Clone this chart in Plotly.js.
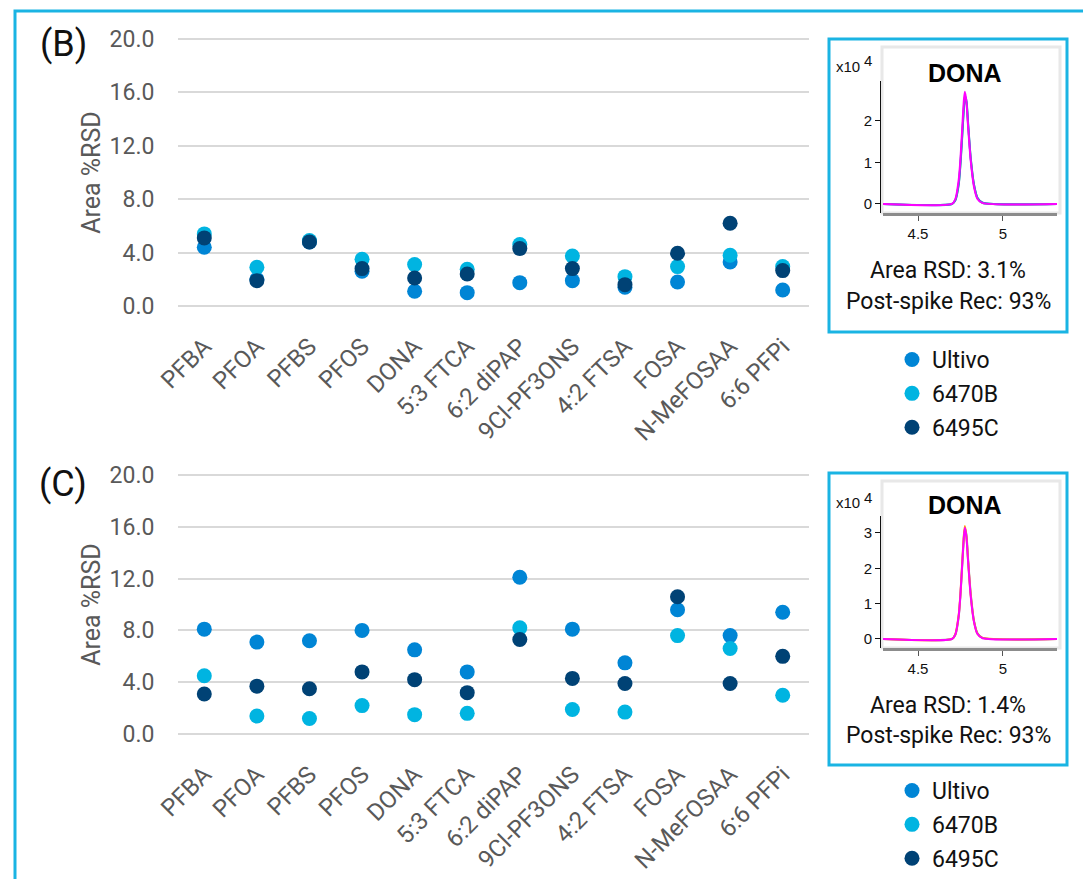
<!DOCTYPE html>
<html>
<head>
<meta charset="utf-8">
<script src="https://cdn.plot.ly/plotly-3.0.1.min.js"></script>
<style>html,body{margin:0;padding:0;background:#fff;}#chart{width:1083px;height:879px;}</style>
</head>
<body>
<div id="chart"></div>
<script>
// ---- data ----
const categories = ['PFBA','PFOA','PFBS','PFOS','DONA','5:3 FTCA','6:2 diPAP','9Cl-PF3ONS','4:2 FTSA','FOSA','N-MeFOSAA','6:6 PFPi'];
const seriesNames = ['Ultivo','6470B','6495C'];

// Panel (B)
const ultivoB = [4.4, 2.0, 4.8, 2.6, 1.1, 1.0, 1.75, 1.9, 1.4, 1.8, 3.3, 1.2];
const i6470B_B = [5.4, 2.9, 4.9, 3.5, 3.1, 2.75, 4.6, 3.75, 2.2, 2.95, 3.8, 2.95];
const i6495C_B = [5.1, 1.9, 4.8, 2.8, 2.1, 2.4, 4.3, 2.8, 1.6, 3.95, 6.2, 2.65];

// Panel (C)
const ultivoC = [8.1, 7.1, 7.2, 8.0, 6.5, 4.8, 12.1, 8.1, 5.5, 9.6, 7.6, 9.4];
const i6470B_C = [4.5, 1.4, 1.2, 2.2, 1.5, 1.6, 8.2, 1.9, 1.7, 7.6, 6.6, 3.0];
const i6495C_C = [3.1, 3.7, 3.5, 4.8, 4.2, 3.2, 7.3, 4.3, 3.9, 10.6, 3.9, 6.0];

const yTicks = [0, 4, 8, 12, 16, 20];
const yTickText = ['0.0','4.0','8.0','12.0','16.0','20.0'];

// Inset chromatograms (DONA), retention time (min) vs intensity (x10^4)
const rt = [4.29, 4.70, 4.72, 4.74, 4.75, 4.76, 4.77, 4.776, 4.785, 4.795, 4.81, 4.83, 4.85, 4.88, 5.32];
const chromB_teal    = [0, 0, 0.09, 0.48, 0.95, 1.60, 2.30, 2.55, 2.45, 1.90, 1.12, 0.45, 0.15, 0.03, 0];
const chromB_blue    = [0, 0, 0.10, 0.50, 1.00, 1.65, 2.35, 2.60, 2.50, 1.95, 1.10, 0.45, 0.14, 0.03, 0];
const chromB_magenta = [0, 0, 0.12, 0.60, 1.10, 1.80, 2.50, 2.70, 2.45, 1.85, 1.05, 0.40, 0.12, 0.02, 0];
const chromC_gray    = [0, 0, 0.12, 0.65, 1.25, 2.05, 2.85, 3.12, 2.95, 2.25, 1.30, 0.50, 0.16, 0.03, 0];
const chromC_orange  = [0, 0, 0.14, 0.70, 1.30, 2.15, 2.95, 3.20, 2.90, 2.20, 1.25, 0.48, 0.15, 0.03, 0];
const chromC_magenta = [0, 0, 0.13, 0.68, 1.28, 2.10, 2.90, 3.15, 2.88, 2.18, 1.22, 0.47, 0.14, 0.02, 0];
const insetTitle = 'DONA';
const insetTextB = ['Area RSD: 3.1%', 'Post-spike Rec: 93%'];
const insetTextC = ['Area RSD: 1.4%', 'Post-spike Rec: 93%'];

// ---- styles ----
const colors = ['#0085D5', '#00B4E1', '#004275'];
const cyan = '#1AB4E3';
const W = 1083, H = 879;
const px = x => x / W;
const py = y => 1 - y / H;
const FONT = 'Roboto, "Noto Sans", sans-serif';
const ARIAL = '"Liberation Sans", Arial, sans-serif';

const traces = [];
const panelB = [ultivoB, i6470B_B, i6495C_B];
const panelC = [ultivoC, i6470B_C, i6495C_C];
panelB.forEach((vals, i) => traces.push({
  type: 'scatter', mode: 'markers', x: categories, y: vals, name: seriesNames[i],
  xaxis: 'x', yaxis: 'y', legend: 'legend', legendgroup: 'b' + i,
  marker: {size: 15, color: colors[i]}, hoverinfo: 'x+y+name'
}));
panelC.forEach((vals, i) => traces.push({
  type: 'scatter', mode: 'markers', x: categories, y: vals, name: seriesNames[i],
  xaxis: 'x2', yaxis: 'y2', legend: 'legend2', legendgroup: 'c' + i,
  marker: {size: 15, color: colors[i]}, hoverinfo: 'x+y+name'
}));
const chromLine = (y, color, xa, ya) => ({
  type: 'scatter', mode: 'lines', x: rt, y: y, xaxis: xa, yaxis: ya, showlegend: false,
  line: {color: color, width: 2, shape: 'spline', smoothing: 0.6}, hoverinfo: 'skip'
});
traces.push(chromLine(chromB_teal, '#2E9E8F', 'x3', 'y3'));
traces.push(chromLine(chromB_blue, '#3A7BD5', 'x3', 'y3'));
traces.push(chromLine(chromB_magenta, '#FF00FF', 'x3', 'y3'));
traces.push(chromLine(chromC_gray, '#8A8A8A', 'x4', 'y4'));
traces.push(chromLine(chromC_orange, '#FF9900', 'x4', 'y4'));
traces.push(chromLine(chromC_magenta, '#FF00FF', 'x4', 'y4'));

const mainX = (dom) => ({
  type: 'category', domain: dom, range: [-0.5, 11.5], showgrid: false, zeroline: false,
  showline: false, tickangle: -45, ticks: 'outside', ticklen: 12, tickcolor: 'rgba(0,0,0,0)',
  tickfont: {family: FONT, size: 24, color: '#595959'}, automargin: false,
  fixedrange: true
});
const mainY = (dom) => ({
  domain: dom, range: [-0.3, 20.3], tickvals: yTicks, ticktext: yTickText,
  showgrid: true, gridcolor: '#D9D9D9', gridwidth: 2, zeroline: false, showline: false,
  ticks: 'outside', ticklen: 18, tickcolor: 'rgba(0,0,0,0)', automargin: false,
  tickfont: {family: FONT, size: 23, color: '#595959'},
  title: {text: 'Area %RSD', font: {family: FONT, size: 25, color: '#595959'}, standoff: 1},
  fixedrange: true
});
const insetX = (anchor) => ({
  domain: [px(883), px(1057)], range: [4.294, 5.318], anchor: anchor,
  tickvals: [4.5, 5], ticktext: ['4.5', '5'], showgrid: false, zeroline: false,
  showline: true, linecolor: '#8C8C8C', linewidth: 3, ticks: 'outside', ticklen: 5,
  tickcolor: '#555', tickwidth: 1, tickfont: {family: ARIAL, size: 15, color: '#111'}, fixedrange: true
});
const insetY = (dom, range, vals) => ({
  domain: dom, range: range, anchor: 'free', position: px(880), tickvals: vals,
  showgrid: false, zeroline: false, showline: true, linecolor: '#111', linewidth: 1,
  ticks: 'outside', ticklen: 5, tickcolor: '#111', tickfont: {family: ARIAL, size: 15, color: '#111'},
  fixedrange: true
});
const ann = (text, x, y, size, family, color) => ({
  text: text, xref: 'paper', yref: 'paper', x: px(x), y: py(y), xanchor: 'center', yanchor: 'middle',
  showarrow: false, font: {family: family, size: size, color: color}
});

const layout = {
  width: W, height: H, margin: {l: 0, r: 0, t: 0, b: 0, autoexpand: false},
  paper_bgcolor: '#fff', plot_bgcolor: 'rgba(0,0,0,0)',
  font: {family: FONT},
  xaxis: mainX([px(178), px(809)]),
  yaxis: Object.assign(mainY([py(310), py(35)]), {anchor: 'x'}),
  xaxis2: Object.assign(mainX([px(178), px(809)]), {anchor: 'y2'}),
  yaxis2: Object.assign(mainY([py(738), py(471)]), {anchor: 'x2'}),
  xaxis3: insetX('y3'),
  yaxis3: insetY([py(213), py(81)], [-0.217, 2.96], [0, 1, 2]),
  xaxis4: insetX('y4'),
  yaxis4: insetY([py(648), py(516)], [-0.255, 3.48], [0, 1, 2, 3]),
  showlegend: true,
  legend: {x: px(892), y: py(338), xanchor: 'left', yanchor: 'top', orientation: 'v', tracegroupgap: 1,
           bgcolor: 'rgba(0,0,0,0)', font: {family: FONT, size: 23, color: '#111'}},
  legend2: {x: px(892), y: py(769), xanchor: 'left', yanchor: 'top', orientation: 'v', tracegroupgap: 1,
           bgcolor: 'rgba(0,0,0,0)', font: {family: FONT, size: 23, color: '#111'}},
  shapes: [
    {type: 'rect', xref: 'paper', yref: 'paper', x0: px(15), x1: px(1100), y0: py(11), y1: py(900),
     line: {color: cyan, width: 3}, layer: 'below'},
    {type: 'rect', xref: 'paper', yref: 'paper', x0: px(829), x1: px(1067), y0: py(39), y1: py(332),
     line: {color: cyan, width: 3}},
    {type: 'rect', xref: 'paper', yref: 'paper', x0: px(829), x1: px(1067), y0: py(473), y1: py(765),
     line: {color: cyan, width: 3}},
    {type: 'rect', xref: 'paper', yref: 'paper', x0: px(882), x1: px(1060), y0: py(47), y1: py(213),
     line: {color: '#E8E8E8', width: 3}, layer: 'below'},
    {type: 'rect', xref: 'paper', yref: 'paper', x0: px(882), x1: px(1060), y0: py(481), y1: py(648),
     line: {color: '#E8E8E8', width: 3}, layer: 'below'}
  ],
  annotations: [
    ann('(B)', 63, 44, 36, FONT, '#111'),
    ann('(C)', 63, 484, 36, FONT, '#111'),
    ann('<b>' + insetTitle + '</b>', 965, 73, 25, ARIAL, '#000'),
    ann('x10', 848, 66, 15, ARIAL, '#111'),
    ann('4', 868, 61, 15, ARIAL, '#111'),
    ann(insetTextB[0], 948, 270, 23, FONT, '#111'),
    ann(insetTextB[1], 948, 301, 23, FONT, '#111'),
    ann('<b>' + insetTitle + '</b>', 965, 505, 25, ARIAL, '#000'),
    ann('x10', 848, 502, 15, ARIAL, '#111'),
    ann('4', 868, 497, 15, ARIAL, '#111'),
    ann(insetTextC[0], 948, 705, 23, FONT, '#111'),
    ann(insetTextC[1], 948, 735, 23, FONT, '#111')
  ]
};

Plotly.newPlot('chart', traces, layout, {displayModeBar: false, responsive: false});
</script>
</body>
</html>
